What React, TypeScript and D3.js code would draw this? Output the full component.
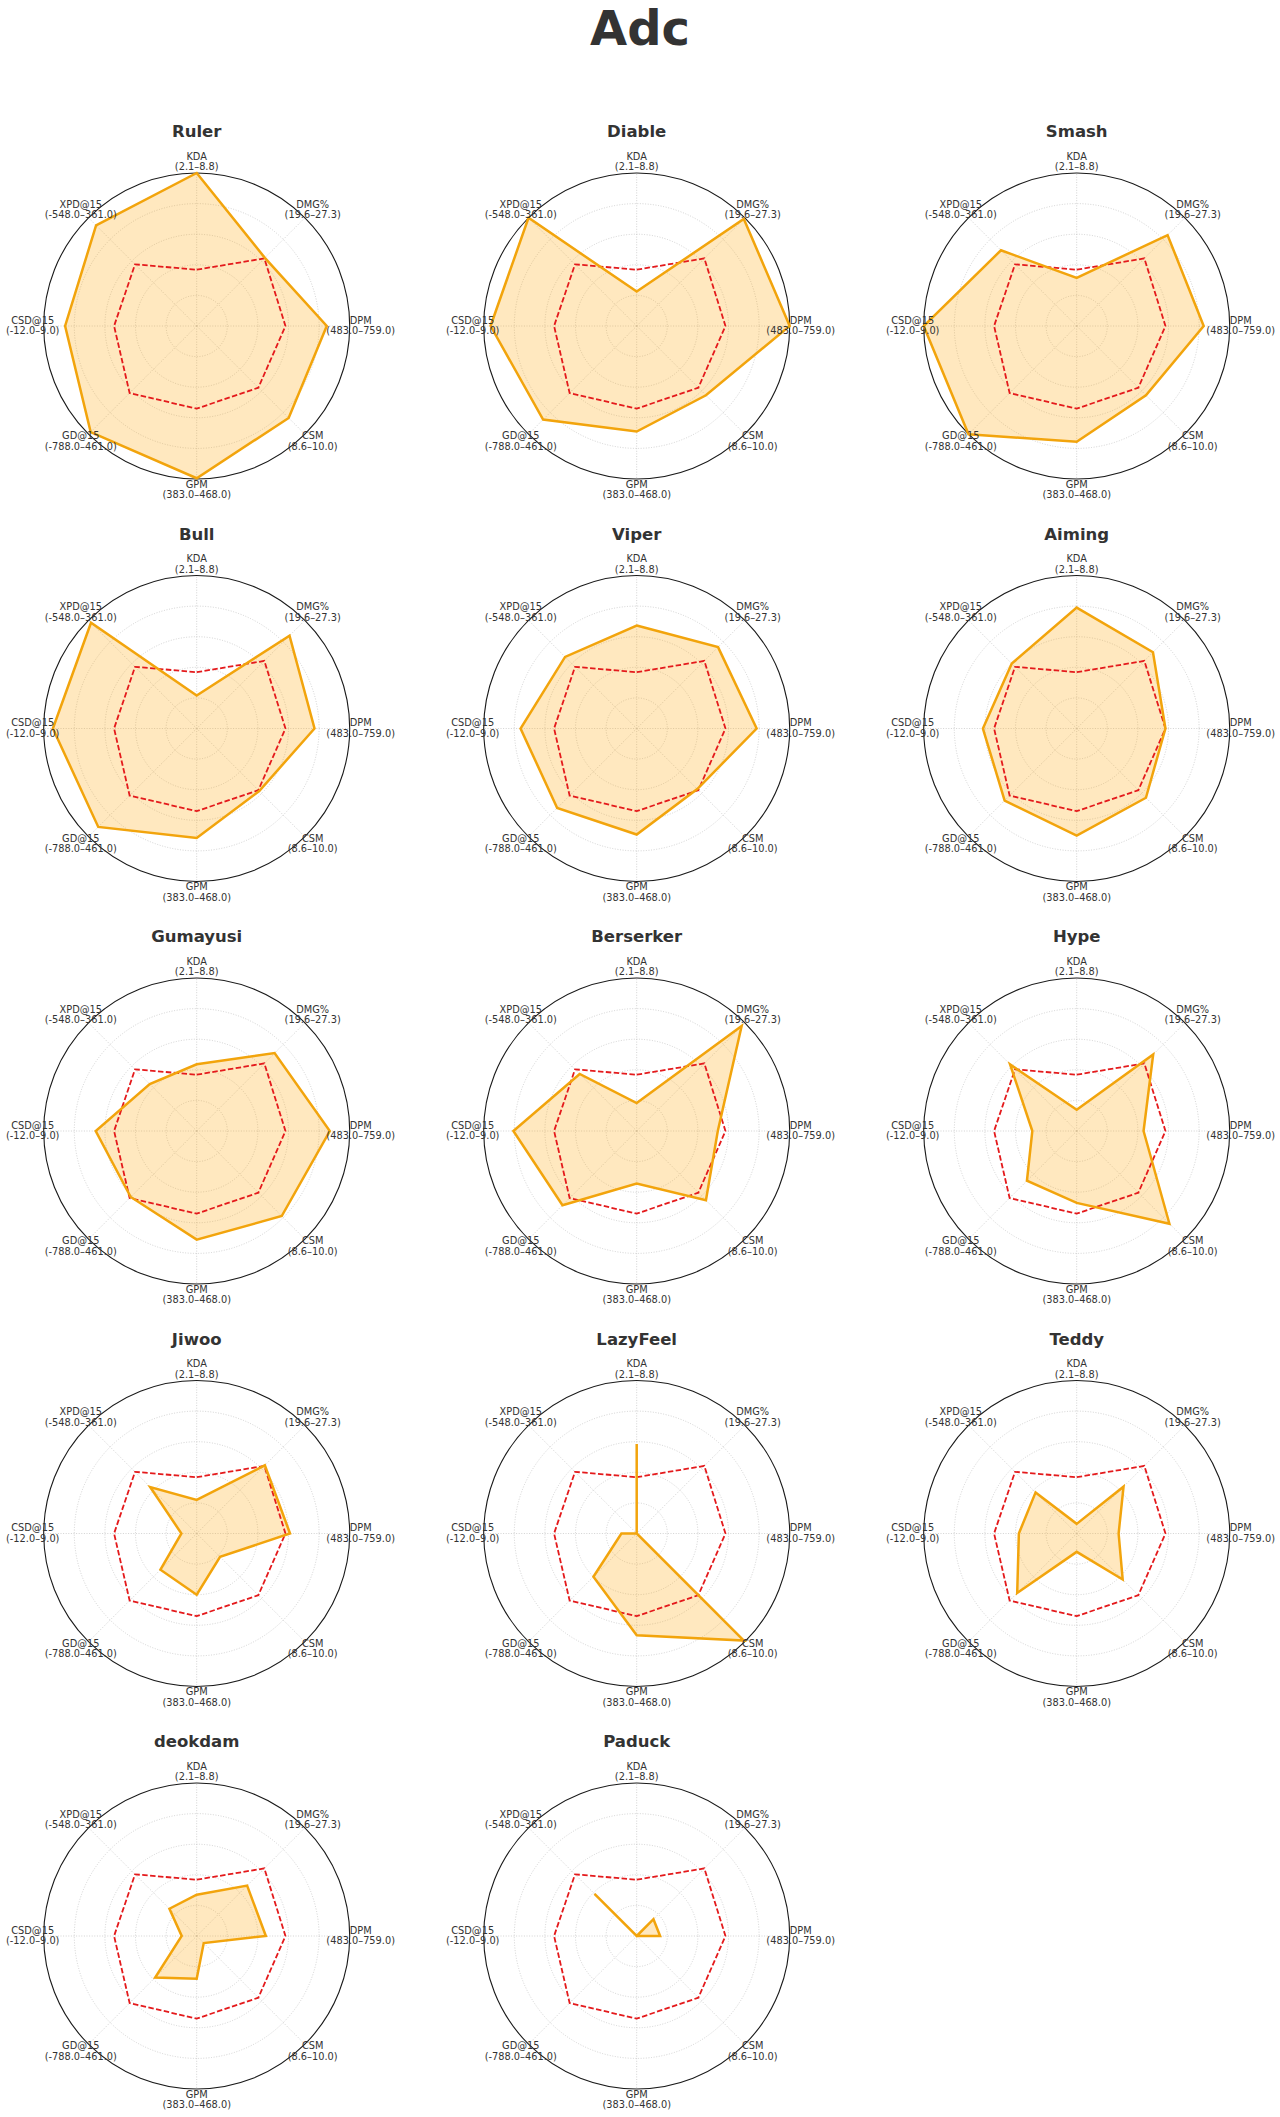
import React from "react";
import * as d3 from "d3";

// ---- data ----
const AXES = ["KDA", "DMG%", "DPM", "CSM", "GPM", "GD@15", "CSD@15", "XPD@15"];
const RANGES = [
  "(2.1–8.8)",
  "(19.6–27.3)",
  "(483.0–759.0)",
  "(8.6–10.0)",
  "(383.0–468.0)",
  "(-788.0–461.0)",
  "(-12.0–9.0)",
  "(-548.0–361.0)",
];
const PLAYERS = [
  "Ruler", "Diable", "Smash",
  "Bull", "Viper", "Aiming",
  "Gumayusi", "Berserker", "Hype",
  "Jiwoo", "LazyFeel", "Teddy",
  "deokdam", "Paduck",
];
// normalized values (0–1) in AXES order
const ruler = [1.0, 0.63, 0.85, 0.85, 0.995, 0.98, 0.86, 0.93];
const diable = [0.225, 0.99, 1.0, 0.64, 0.69, 0.865, 0.955, 1.0];
const smash = [0.315, 0.84, 0.83, 0.64, 0.757, 1.0, 1.0, 0.7];
const bull = [0.216, 0.858, 0.77, 0.578, 0.715, 0.91, 0.94, 0.977];
const viper = [0.673, 0.752, 0.784, 0.56, 0.693, 0.735, 0.759, 0.662];
const aiming = [0.79, 0.705, 0.58, 0.64, 0.7, 0.666, 0.613, 0.6];
const gumayusi = [0.436, 0.72, 0.87, 0.786, 0.71, 0.61, 0.66, 0.434];
const berserker = [0.183, 0.97, 0.53, 0.64, 0.344, 0.686, 0.806, 0.527];
const hype = [0.139, 0.707, 0.437, 0.857, 0.47, 0.46, 0.29, 0.616];
const jiwoo = [0.22, 0.63, 0.61, 0.216, 0.4, 0.335, 0.1, 0.43];
const lazyfeel = [0.585, 0, 0, 0.99, 0.665, 0.4, 0.1, 0];
const teddy = [0.063, 0.433, 0.274, 0.425, 0.12, 0.55, 0.378, 0.38];
const deokdam = [0.27, 0.466, 0.452, 0.065, 0.28, 0.384, 0.098, 0.252];
const paduck = [0, 0.155, 0.153, 0, 0, 0, 0, 0.39];
const PLAYER_VALUES = [
  ruler, diable, smash, bull, viper, aiming, gumayusi,
  berserker, hype, jiwoo, lazyfeel, teddy, deokdam, paduck,
];
const AVERAGE = [0.368, 0.625, 0.58, 0.57, 0.54, 0.62, 0.54, 0.57];
const RING_TICKS = [0.2, 0.4, 0.6, 0.8];

// ---- layout ----
const W = 1280;
const H = 2117;
const R = 153;
const NCOL = 3;
const FONT = "DejaVu Sans, Verdana, sans-serif";
const ORANGE = "#F2A40C";
const ORANGE_FILL = "#FFA500";
const RED = "#E41A1C";

const colX = d3.scaleLinear().domain([0, 2]).range([196.7, 1076.7]);
const rowY = d3.scaleLinear().domain([0, 4]).range([326, 1936]);
const rScale = d3.scaleLinear().domain([0, 1]).range([0, R]);
const angle = d3
  .scaleLinear()
  .domain([0, AXES.length])
  .range([0, 2 * Math.PI]);

const radial = d3
  .lineRadial<number>()
  .angle((_, i) => angle(i))
  .radius((d) => rScale(d))
  .curve(d3.curveLinearClosed);

function Radar({ name, values, cx, cy }: { name: string; values: number[]; cx: number; cy: number }) {
  return (
    <g transform={`translate(${cx},${cy})`}>
      <text
        x={0}
        y={-189}
        textAnchor="middle"
        fontFamily={FONT}
        fontWeight="bold"
        fontSize={16.5}
        fill="#333"
      >
        {name}
      </text>
      {/* grid rings */}
      {RING_TICKS.map((t) => (
        <circle
          key={t}
          r={rScale(t)}
          fill="none"
          stroke="#c6c6c6"
          strokeWidth={0.8}
          strokeDasharray="1 1.6"
        />
      ))}
      {/* spokes */}
      {AXES.map((a, i) => {
        const ang = angle(i);
        return (
          <line
            key={a}
            x1={0}
            y1={0}
            x2={Math.sin(ang) * R}
            y2={-Math.cos(ang) * R}
            stroke="#c6c6c6"
            strokeWidth={0.8}
            strokeDasharray="1 1.6"
          />
        );
      })}
      <circle r={R} fill="none" stroke="#1a1a1a" strokeWidth={1.1} />
      {/* player */}
      <path d={radial(values) || ""} fill={ORANGE_FILL} fillOpacity={0.25} stroke="none" />
      <path
        d={radial(AVERAGE) || ""}
        fill="none"
        stroke={RED}
        strokeWidth={1.8}
        strokeDasharray="5.5 2.4"
      />
      <path
        d={radial(values) || ""}
        fill="none"
        stroke={ORANGE}
        strokeWidth={2.5}
        strokeLinejoin="miter"
      />
      {/* axis labels */}
      {AXES.map((a, i) => {
        const ang = angle(i);
        const lr = R + 11;
        const x = Math.sin(ang) * lr;
        const y = -Math.cos(ang) * lr;
        return (
          <text key={a} textAnchor="middle" fontFamily={FONT} fontSize={9.8} fill="#333">
            <tspan x={x} y={y - 2.5}>
              {a}
            </tspan>
            <tspan x={x} y={y + 8}>
              {RANGES[i]}
            </tspan>
          </text>
        );
      })}
    </g>
  );
}

export default function App() {
  return (
    <svg
      width={W}
      height={H}
      viewBox={`0 0 ${W} ${H}`}
      style={{ position: "absolute", left: 0, top: 0, background: "#fff" }}
    >
      <rect width={W} height={H} fill="#fff" />
      <text
        x={W / 2}
        y={45}
        textAnchor="middle"
        fontFamily={FONT}
        fontWeight="bold"
        fontSize={48}
        fill="#333"
      >
        Adc
      </text>
      {PLAYERS.map((p, k) => (
        <Radar
          key={p}
          name={p}
          values={PLAYER_VALUES[k]}
          cx={colX(k % NCOL)}
          cy={rowY(Math.floor(k / NCOL))}
        />
      ))}
    </svg>
  );
}
